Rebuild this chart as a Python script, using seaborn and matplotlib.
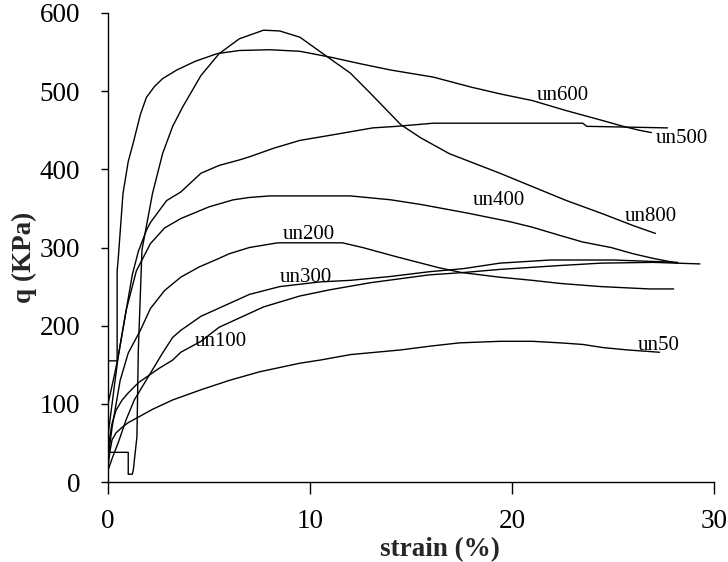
import numpy as np
import pandas as pd
import matplotlib
matplotlib.use("Agg")
import matplotlib.pyplot as plt
import seaborn as sns

# ---- data (strain %, q KPa) ----
un50_x = [0, 0, 0.1, 0.2, 0.4, 0.7, 1.0, 1.5, 2.2, 3.2, 4.6, 6, 7.5, 9.5, 10.5, 12, 14.5, 16, 17.4, 19.4, 21, 22.4, 23.5, 24.5, 25.7, 27.3]
un50_y = [0, 20, 40, 54, 63, 70, 76, 83, 93, 105, 118, 130, 141, 152, 156, 163, 169, 174, 178, 180, 180, 178, 176, 172, 169, 166]

un100_x = [0, 0, 0.1, 0.2, 0.4, 0.7, 1.0, 1.5, 2.5, 3.2, 3.6, 4.6, 5.5, 7.7, 9.5, 11, 13, 15.9, 17.6, 19.4, 22.4, 24.4, 27, 29.3]
un100_y = [0, 40, 60, 75, 92, 105, 114, 127, 145, 156, 166, 180, 198, 224, 238, 246, 255, 265, 268, 272, 277, 280, 281, 279]

un200_x = [0, 0, 0.2, 0.4, 0.6, 1.0, 1.6, 2.1, 2.8, 3.6, 4.5, 5.4, 6, 7, 8.4, 11.6, 12.6, 14.3, 16.4, 17.5, 19.4, 21, 22.4, 24.4, 26.8, 28]
un200_y = [0, 30, 70, 100, 130, 165, 194, 222, 245, 262, 275, 285, 292, 300, 306, 306, 300, 288, 274, 268, 262, 258, 254, 250, 247, 247]

un300_x = [0, 0, 0.2, 0.5, 0.9, 1.3, 2, 2.7, 3.2, 3.6, 4.6, 5.8, 7, 8.5, 10.5, 12, 14, 15.9, 17.6, 19.4, 21.9, 25, 28.2]
un300_y = [0, 15, 30, 50, 80, 105, 135, 165, 185, 194, 212, 226, 240, 250, 256, 258, 263, 269, 273, 280, 284, 284, 281]

un400_x = [0, 0, 0.2, 0.5, 0.9, 1.4, 2.1, 2.8, 3.6, 5, 6.2, 7, 8, 12, 14, 15.5, 17.8, 19.9, 21, 22.3, 23.5, 24.9, 26, 27, 28.2]
un400_y = [0, 60, 100, 160, 220, 270, 305, 325, 337, 352, 361, 364, 366, 366, 361, 355, 344, 333, 326, 316, 307, 300, 292, 286, 280]

un500_x = [0, 0, 0.3, 0.5, 0.84, 1.2, 1.5, 1.9, 2.1, 2.9, 3.6, 4.6, 5.5, 6.5, 7, 8.2, 9.5, 11.1, 13.1, 14.3, 16.1, 23.5, 23.7, 27.7]
un500_y = [0, 100, 135, 160, 211, 265, 295, 322, 332, 360, 371, 395, 405, 412, 416, 427, 437, 444, 453, 455, 459, 459, 455, 453]

un600_x = [0, 0, 0.45, 0.45, 0.5, 0.74, 1.0, 1.24, 1.6, 1.9, 2.3, 2.7, 3.4, 4.3, 5.4, 6.5, 8, 9.5, 11.1, 12.5, 14, 16.1, 18, 19.5, 21, 22.7, 24.4, 25.5, 26.3, 26.9]
un600_y = [0, 155, 155, 270, 284, 369, 410, 433, 470, 492, 506, 516, 527, 538, 548, 552, 553, 551, 543, 535, 527, 518, 505, 496, 488, 475, 463, 455, 450, 447]

un800_x = [0, 0, 1.0, 1.0, 1.2, 1.25, 1.43, 1.5, 1.68, 2.2, 2.7, 3.2, 3.7, 4.6, 5.5, 6.5, 7.7, 8.5, 9.5, 10.8, 12, 13, 14.5, 15.5, 16.9, 19.4, 21, 22.7, 24.5, 26, 27.1]
un800_y = [0, 38, 38, 10, 10, 15, 58, 169, 297, 369, 420, 455, 480, 520, 548, 567, 578, 577, 569, 545, 523, 497, 457, 440, 420, 395, 378, 360, 343, 328, 318]

series_names = ["un50", "un100", "un200", "un300", "un400", "un500", "un600", "un800"]
series_x = [un50_x, un100_x, un200_x, un300_x, un400_x, un500_x, un600_x, un800_x]
series_y = [un50_y, un100_y, un200_y, un300_y, un400_y, un500_y, un600_y, un800_y]

# label anchor positions (left edge, vertical centre) in data units
label_x = [26.2, 4.3, 8.66, 8.5, 18.05, 27.1, 21.2, 25.6]
label_y = [175, 180, 317, 261, 360, 439, 495, 340]

x_ticks = [0, 10, 20, 30]
y_ticks = [0, 100, 200, 300, 400, 500, 600]

rows = []
for name, xs, ys in zip(series_names, series_x, series_y):
    for i, (a, b) in enumerate(zip(xs, ys)):
        rows.append({"strain": a, "q": b, "series": name, "order": i})
df = pd.DataFrame(rows)

sns.set_style("ticks")
plt.rcParams["font.family"] = ["Liberation Serif", "DejaVu Serif"]

fig = plt.figure(figsize=(7.28, 5.62), dpi=100)
ax = fig.add_axes([0.1484, 0.1423, 0.8324, 0.8346])

sns.lineplot(data=df, x="strain", y="q", hue="series", estimator=None, sort=False,
             palette={n: "black" for n in series_names}, linewidth=1.0, legend=False, ax=ax)

for name, lx, ly in zip(series_names, label_x, label_y):
    ax.text(lx, ly, name, fontsize=15, ha="left", va="center", color="black")

ax.set_xlim(0, 30)
ax.set_ylim(0, 600)
ax.set_xticks(x_ticks)
ax.set_yticks(y_ticks)
ax.tick_params(axis="x", direction="out", length=8.5, width=1, pad=11, labelsize=19.5, colors="black")
ax.tick_params(axis="y", direction="out", length=5, width=1, pad=15, labelsize=19.5, colors="black")
for s in ["top", "right"]:
    ax.spines[s].set_visible(False)
for s in ["left", "bottom"]:
    ax.spines[s].set_color("black")
    ax.spines[s].set_linewidth(1.0)

ax.set_xlabel("strain (%)", fontsize=19.5, fontweight="bold")
ax.set_ylabel("q (KPa)", fontsize=19.5, fontweight="bold")
ax.xaxis.set_label_coords(0.548, -0.118)
ax.yaxis.set_label_coords(-0.118, 0.48)

fig.savefig("out.png", dpi=100)
